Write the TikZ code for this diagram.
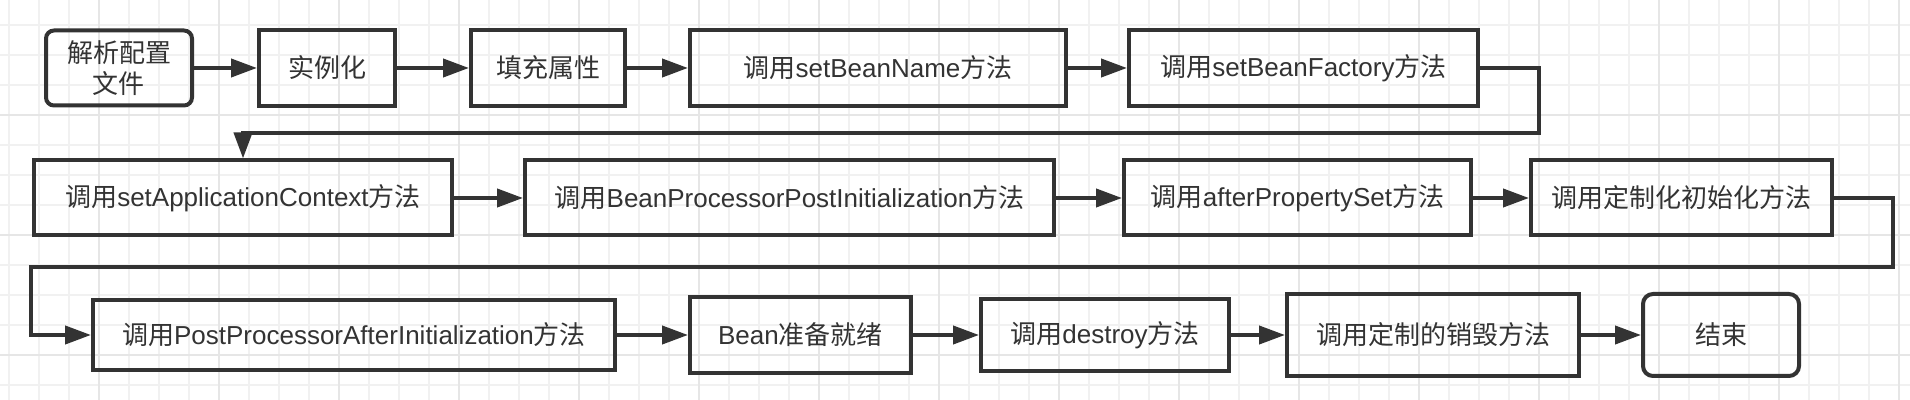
\documentclass[tikz,border=0pt]{standalone}
\usepackage{fontspec}
\setmainfont{Liberation Sans}
\newfontfamily\zhfont{Noto Sans CJK SC}
\newcommand{\zh}[1]{{\zhfont #1}}
\usetikzlibrary{arrows.meta}
\definecolor{ink}{HTML}{333333}
\definecolor{gridminor}{HTML}{F1F1F1}
\definecolor{gridmajor}{HTML}{E6E6E6}

\begin{document}
\begin{tikzpicture}[x=0.5pt, y=-0.5pt,
    box/.style={draw=ink, line width=2pt, text=ink, inner sep=0pt, align=center,
      font=\fontsize{13pt}{15.5pt}\selectfont, minimum height=38pt},
    endbox/.style={box, rounded corners=4pt},
    flow/.style={draw=ink, line width=2pt, -{Triangle[length=13pt,width=9pt]}}]
   % canvas and grid
   \fill[white] (0,0) rectangle (1910,400);
   \useasboundingbox (0,0) rectangle (1910,400);
   \foreach \gx in {9,39,...,1899} \draw[gridminor, line width=0.6pt] (\gx,0) -- (\gx,400);
   \foreach \gy in {25,55,...,385} \draw[gridminor, line width=0.6pt] (0,\gy) -- (1910,\gy);
   \foreach \gx in {99,219,...,1899} \draw[gridmajor, line width=0.6pt] (\gx,0) -- (\gx,400);
   \foreach \gy in {115,235,355} \draw[gridmajor, line width=0.6pt] (0,\gy) -- (1910,\gy);

   % first row
   \node[endbox, minimum width=73pt, minimum height=37.5pt] (parse) at (119,68) {\zh{解析配置}\\\zh{文件}};
   \node[box, minimum width=68pt] (inst) at (327,68) {\zh{实例化}};
   \node[box, minimum width=77pt] (fill) at (548,68) {\zh{填充属性}};
   \node[box, minimum width=188pt] (setname) at (878,68) {\zh{调用}setBeanName\zh{方法}};
   \node[box, minimum width=174.5pt] (setfactory) at (1303.5,68) {\zh{调用}setBeanFactory\zh{方法}};

   % second row
   \node[box, minimum width=209pt, minimum height=37.5pt] (setctx) at (243,198) {\zh{调用}setApplicationContext\zh{方法}};
   \node[box, minimum width=264.5pt, minimum height=37.5pt] (beforeinit) at (789.5,198) {\zh{调用}BeanProcessorPostInitialization\zh{方法}};
   \node[box, minimum width=173.5pt, minimum height=37.5pt] (afterprop) at (1297.5,198) {\zh{调用}afterPropertySet\zh{方法}};
   \node[box, minimum width=150.5pt, minimum height=37.5pt] (custinit) at (1681.5,198) {\zh{调用定制化初始化方法}};

   % third row
   \node[box, minimum width=261pt, minimum height=35pt] (afterinit) at (354,335) {\zh{调用}PostProcessorAfterInitialization\zh{方法}};
   \node[box, minimum width=110.5pt] (ready) at (800.5,335) {Bean\zh{准备就绪}};
   \node[box, minimum width=124pt, minimum height=36pt] (destroy) at (1105,335) {\zh{调用}destroy\zh{方法}};
   \node[box, minimum width=146pt, minimum height=41pt] (custdestroy) at (1433,335) {\zh{调用定制的销毁方法}};
   \node[endbox, minimum width=78pt, minimum height=41pt, rounded corners=5pt] (finish) at (1721,335) {\zh{结束}};

   % turning points of the long connectors
   \coordinate (turnA) at (1539,133);
   \coordinate (turnB) at (1893,267);
   \coordinate (turnC) at (31,267);

   \draw[flow] (parse) -- (inst);
   \draw[flow] (inst) -- (fill);
   \draw[flow] (fill) -- (setname);
   \draw[flow] (setname) -- (setfactory);
   \draw[flow] (setfactory.east) -| (turnA) -| (setctx.north);
   \draw[flow] (setctx) -- (beforeinit);
   \draw[flow] (beforeinit) -- (afterprop);
   \draw[flow] (afterprop) -- (custinit);
   \draw[flow] (custinit.east) -| (turnB) -- (turnC) |- (afterinit.west);
   \draw[flow] (afterinit) -- (ready);
   \draw[flow] (ready) -- (destroy);
   \draw[flow] (destroy) -- (custdestroy);
   \draw[flow] (custdestroy) -- (finish);
\end{tikzpicture}
\end{document}
